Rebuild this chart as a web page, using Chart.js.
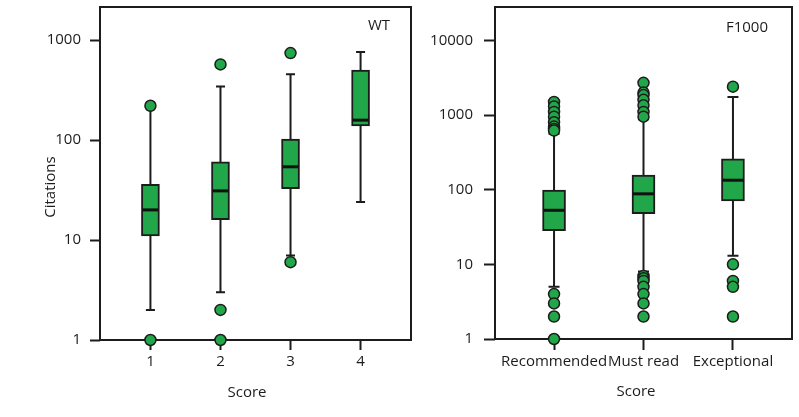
<!DOCTYPE html>
<html>
<head>
<meta charset="utf-8">
<script src="https://cdn.jsdelivr.net/npm/chart.js@4"></script>
<style>
  body { margin: 0; background: #fff; }
  canvas { position: absolute; top: 0; }
  #wt-chart { left: 0; }
  #f1000-chart { left: 420px; }
</style>
</head>
<body>
<canvas id="wt-chart" width="420" height="417"></canvas>
<canvas id="f1000-chart" width="379" height="417"></canvas>
<script>
// WT panel
const wtScores = ['1', '2', '3', '4']
const wtLow = [2, 3, 7, 24]
const wtQ1 = [11, 16, 32.7, 138]
const wtMedian = [20, 31, 54, 158]
const wtQ3 = [36, 60.6, 102, 502]
const wtHigh = [210, 343, 454, 760]
const wtOutliers = [[220, 1], [570, 2, 1], [740, 6], []]
const wtTicks = [1, 10, 100, 1000]

// F1000 panel
const f1000Scores = ['Recommended', 'Must read', 'Exceptional']
const f1000Low = [5, 8, 13]
const f1000Q1 = [28.2, 47.8, 71]
const f1000Median = [53, 88, 134]
const f1000Q3 = [98.5, 157, 259]
const f1000High = [560, 880, 1740]
const f1000Outliers = [
  [1500, 1300, 1100, 950, 800, 700, 650, 620, 4, 3, 2, 1],
  [2700, 2000, 1850, 1600, 1350, 1100, 950, 7, 6.5, 6, 5, 4, 3, 2],
  [2400, 10, 6, 5, 2]
]
const f1000Ticks = [1, 10, 100, 1000, 10000]

const ink = '#1c1c1c'
const green = '#22a64a'
Chart.defaults.font.family = '"Open Sans", sans-serif'
Chart.defaults.font.size = 15
Chart.defaults.color = ink

// whiskers, caps, medians, frame and free texts
const boxParts = (st) => ({
  id: 'boxParts',
  beforeDatasetsDraw(chart) {
    const { ctx, chartArea: a } = chart
    const x = chart.scales.x, y = chart.scales.y
    ctx.save()
    ctx.strokeStyle = ink
    ctx.lineWidth = 2
    ctx.strokeRect(a.left, a.top, a.right - a.left, a.bottom - a.top)
    st.low.forEach((lo, i) => {
      const px = x.getPixelForValue(i + 1)
      const yl = y.getPixelForValue(lo)
      const yh = y.getPixelForValue(st.high[i])
      ctx.beginPath()
      ctx.moveTo(px, yl); ctx.lineTo(px, yh)
      ctx.moveTo(px - st.cap / 2, yl); ctx.lineTo(px + st.cap / 2, yl)
      ctx.moveTo(px - st.cap / 2, yh); ctx.lineTo(px + st.cap / 2, yh)
      ctx.stroke()
    })
    ctx.restore()
  },
  afterDatasetsDraw(chart) {
    const { ctx } = chart
    const x = chart.scales.x, y = chart.scales.y
    ctx.save()
    ctx.strokeStyle = '#111'
    ctx.lineWidth = 3
    st.median.forEach((m, i) => {
      const px = x.getPixelForValue(i + 1)
      const py = y.getPixelForValue(m)
      ctx.beginPath()
      ctx.moveTo(px - st.box / 2 + 1, py); ctx.lineTo(px + st.box / 2 - 1, py)
      ctx.stroke()
    })
    ctx.restore()
  },
  afterDraw(chart) {
    const { ctx } = chart
    ctx.save()
    ctx.fillStyle = ink
    ctx.font = '15px "Open Sans", sans-serif'
    ctx.textAlign = 'center'
    ctx.textBaseline = 'middle'
    st.texts.forEach(t => {
      ctx.save()
      ctx.translate(t.x, t.y)
      if (t.rotate) ctx.rotate(-Math.PI / 2)
      ctx.fillText(t.text, 0, 0)
      ctx.restore()
    })
    ctx.restore()
  }
})

const makeChart = (canvas, s) => {
  const boxes = s.q1.map((q, i) => ({ x: i + 1, y: [q, s.q3[i]] }))
  const points = []
  s.outliers.forEach((list, i) => list.forEach(v => points.push({ x: i + 1, y: v })))
  const grid = {
    display: true, drawOnChartArea: false, drawTicks: true,
    tickLength: s.tickLength, tickWidth: 2, tickColor: ink, offset: false
  }
  return new Chart(canvas, {
    type: 'scatter',
    data: {
      datasets: [
        {
          type: 'bar', data: boxes, barThickness: s.box,
          backgroundColor: green, borderColor: ink, borderWidth: 2, borderSkipped: false
        },
        {
          type: 'scatter', data: points, clip: false,
          pointRadius: 5.5, pointBorderWidth: 1.5,
          pointBackgroundColor: green, pointBorderColor: ink
        }
      ]
    },
    options: {
      responsive: false,
      devicePixelRatio: 1,
      animation: false,
      layout: { padding: s.padding },
      plugins: { legend: { display: false }, tooltip: { enabled: false } },
      scales: {
        x: {
          type: 'linear', min: s.xMin, max: s.xMax, offset: false,
          grid: grid, border: { display: false },
          ticks: { padding: 3, maxRotation: 0, autoSkip: false, callback: v => s.labels[v - 1] },
          afterBuildTicks: sc => { sc.ticks = s.labels.map((l, i) => ({ value: i + 1 })) },
          afterFit: sc => { sc.height = s.xHeight; sc.paddingLeft = 0; sc.paddingRight = 0 }
        },
        y: {
          type: 'logarithmic', min: 1, max: s.yMax,
          grid: grid, border: { display: false },
          ticks: { padding: s.tickPad, callback: v => String(v) },
          afterBuildTicks: sc => { sc.ticks = s.yTicks.map(v => ({ value: v })) },
          afterFit: sc => { sc.width = s.yWidth; sc.paddingTop = 0; sc.paddingBottom = 0 }
        }
      }
    },
    plugins: [boxParts({
      low: s.low, high: s.high, median: s.median, cap: s.cap, box: s.box, texts: s.texts
    })]
  })
}

makeChart(document.getElementById('wt-chart'), {
  labels: wtScores, low: wtLow, q1: wtQ1, median: wtMedian, q3: wtQ3, high: wtHigh,
  outliers: wtOutliers, yTicks: wtTicks,
  xMin: 0.28, xMax: 4.72, yMax: 2140,
  padding: { top: 5, right: 9, left: 0, bottom: 0 },
  yWidth: 100, xHeight: 77, tickLength: 10, tickPad: 9, box: 18, cap: 9,
  texts: [
    { text: 'Citations', x: 51, y: 187, rotate: true },
    { text: 'Score', x: 247, y: 393 },
    { text: 'WT', x: 379, y: 26 }
  ]
})

makeChart(document.getElementById('f1000-chart'), {
  labels: f1000Scores, low: f1000Low, q1: f1000Q1, median: f1000Median, q3: f1000Q3, high: f1000High,
  outliers: f1000Outliers, yTicks: f1000Ticks,
  xMin: 0.34, xMax: 3.66, yMax: 28000,
  padding: { top: 4, right: 4, left: 0, bottom: 0 },
  yWidth: 75, xHeight: 78, tickLength: 11, tickPad: 11, box: 23, cap: 11,
  texts: [
    { text: 'Score', x: 216, y: 392 },
    { text: 'F1000', x: 327, y: 28 }
  ]
})
</script>
</body>
</html>
